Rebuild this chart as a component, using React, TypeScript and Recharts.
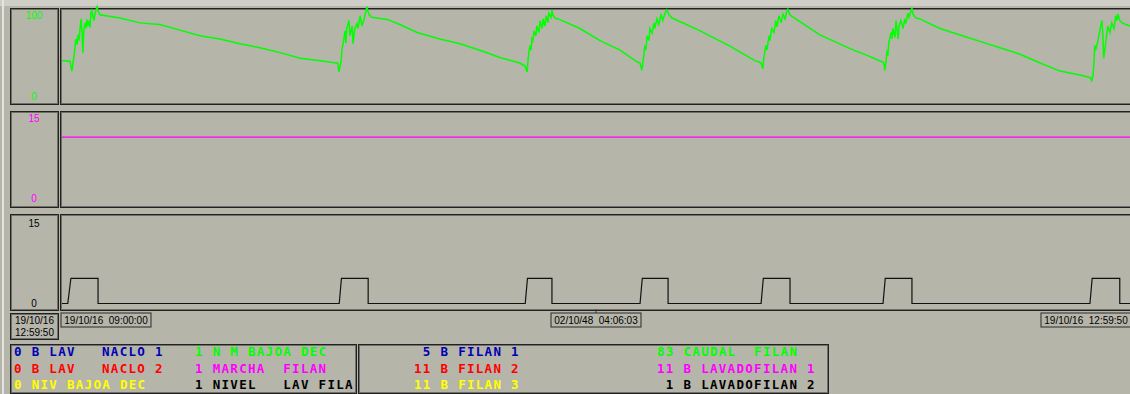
import { Line, LineChart, XAxis, YAxis } from 'recharts'

// top pen: nivel (0..100)
const levelTime = [
  0, 0.9, 1.8, 2.0, 2.2, 2.5, 2.7, 2.9, 3.1, 3.4, 3.6, 3.8, 4.0, 4.3, 4.5, 4.7, 4.9, 5.2, 5.4, 5.6, 5.8, 6.1, 6.3, 6.5, 6.7, 7.0, 7.2, 7.4, 7.6, 7.9, 8.1, 8.5,
  13.0, 17.5, 22.0, 26.5, 31.0, 35.5, 40.0, 44.5, 49.0, 53.5, 58.0, 61.6,
  62.0, 62.2, 62.7, 62.9, 63.1, 63.4, 63.6, 63.8, 64.0, 64.5, 64.7, 65.2, 65.4, 65.8, 66.3, 66.5, 67.0, 67.4, 67.9, 68.3, 68.5, 69.0, 69.7,
  73.3, 75.9, 79.8, 84.9, 89.4, 93.9, 98.4, 102.9, 103.8,
  104.0, 104.5, 104.7, 104.9, 105.2, 105.4, 105.6, 105.8, 106.1, 106.5, 106.7, 107.2, 107.4, 107.9, 108.1, 108.5, 108.8, 109.2, 109.4, 109.9, 110.1, 110.3, 110.8, 111.9,
  116.4, 120.9, 125.4, 129.4,
  129.9, 130.3, 130.6, 131.0, 131.2, 131.5, 131.9, 132.1, 132.6, 133.0, 133.2, 133.7, 134.1, 134.6, 135.0, 135.5, 135.9, 136.4, 137.1,
  143.4, 150.1, 155.7, 156.8,
  157.1, 157.5, 157.7, 158.2, 158.4, 158.9, 159.1, 159.5, 160.0, 160.4, 160.7, 161.1, 161.6, 162.0, 162.5, 162.9, 163.1, 163.6, 164.3,
  170.3, 177.1, 181.6, 184.5,
  184.7, 184.9, 185.2, 185.4, 185.6, 185.8, 186.3, 186.5, 186.7, 187.2, 187.4, 187.9, 188.1, 188.5, 189.0, 189.4, 189.6, 190.1, 190.3, 190.8, 191.0, 191.2, 191.9,
  192.8, 197.3, 201.8, 206.3, 210.8, 215.3, 219.8, 224.3, 228.7, 231.0,
  231.2, 231.4, 231.7, 231.9, 232.1, 232.3, 232.8, 233.2, 233.7, 233.9, 234.1, 234.6, 235.0, 235.5, 235.9, 236.4, 236.8, 237.1, 237.3, 237.7, 238.2, 239.1, 240,
]
const levelValue = [
  44, 44, 43, 37, 31, 42, 50, 59, 71, 64, 76, 69, 81, 96, 79, 54, 81, 91, 84, 95, 87, 94, 85, 103, 106, 98, 94, 102, 106, 111, 106, 101,
  97, 91, 89, 82, 75, 71, 65, 60, 54, 47, 44, 41,
  41, 30, 42, 57, 63, 73, 81, 66, 84, 94, 75, 87, 65, 84, 90, 84, 100, 87, 96, 106, 111, 101, 98,
  95, 89, 79, 71, 65, 57, 48, 41, 38,
  38, 30, 42, 54, 63, 57, 71, 69, 81, 75, 87, 79, 94, 84, 96, 87, 100, 91, 103, 98, 107, 101, 97, 95,
  84, 69, 57, 42,
  41, 32, 44, 63, 57, 75, 69, 84, 78, 91, 84, 96, 89, 101, 94, 103, 107, 101, 97,
  81, 62, 44, 42,
  41, 34, 47, 63, 57, 75, 69, 84, 79, 94, 86, 100, 91, 102, 96, 106, 108, 101, 98,
  76, 59, 49, 42,
  41, 32, 44, 57, 50, 66, 79, 71, 84, 73, 94, 71, 87, 94, 84, 96, 90, 103, 98, 106, 110, 102, 97,
  96, 84, 76, 68, 60, 52, 41, 31, 26, 23,
  22, 18, 26, 42, 63, 57, 69, 81, 94, 75, 47, 69, 87, 79, 91, 84, 100, 94, 102, 94, 91, 89, 87,
]
const levelTicks = [0, 100]

// middle pen: marcha (0..15)
const marchaTime = [0, 240]
const marchaValue = [11.5, 11.5]
const marchaTicks = [0, 15]

// bottom pen: lavado (0..15)
const washTime = [
  0, 1.3, 2.0, 8.1, 8.1, 62.3, 62.8, 68.8, 68.8, 104.1, 104.6, 110.1, 110.1, 129.9, 130.4, 136.2, 136.2,
  157.1, 157.6, 163.6, 163.6, 184.5, 185.0, 191.0, 191.0, 231.0, 231.5, 237.7, 237.7, 240,
]
const washValue = [
  0, 0, 4.7, 4.7, 0, 0, 4.7, 4.7, 0, 0, 4.7, 4.7, 0, 0, 4.7, 4.7, 0,
  0, 4.7, 4.7, 0, 0, 4.7, 4.7, 0, 0, 4.7, 4.7, 0, 0,
]
const washTicks = [0, 15]

const timeTicks = [0, 120, 240]
const timeLabels = ['19/10/16  09:00:00', '02/10/48  04:06:03', '19/10/16  12:59:50']
const cursorLabel = ['19/10/16', '12:59:50']

const legendLeftRows = [
  [['0 B LAV', '#0000b4'], ['NACLO 1', '#0000b4'], ['1 N M BAJOA DEC', '#00ff00']],
  [['0 B LAV', '#ff0000'], ['NACLO 2', '#ff0000'], ['1 MARCHA  FILAN', '#ff00ff']],
  [['0 NIV BAJOA DEC', '#ffff00'], ['', '#000'], ['1 NIVEL   LAV FILA', '#000000']],
]
const legendRightRows = [
  [[' 5 B FILAN 1', '#0000b4'], ['83 CAUDAL  FILAN', '#00ff00']],
  [['11 B FILAN 2', '#ff0000'], ['11 B LAVADOFILAN 1', '#ff00ff']],
  [['11 B FILAN 3', '#ffff00'], [' 1 B LAVADOFILAN 2', '#000000']],
]

const BG = '#b6b5aa'
const SANS = '"Liberation Sans", Arial, sans-serif'
const MONO = '"DejaVu Sans Mono", "Liberation Mono", monospace'

const levelData = levelTime.map((t, i) => ({ t, v: levelValue[i] }))
const marchaData = marchaTime.map((t, i) => ({ t, v: marchaValue[i] }))
const washData = washTime.map((t, i) => ({ t, v: washValue[i] }))

const box = (left: number, top: number, width: number, height: number) => ({
  position: 'absolute' as const,
  left,
  top,
  width,
  height,
  boxSizing: 'border-box' as const,
  border: '1px solid #222',
  boxShadow: 'inset 0 0 0 1px #6f6e68',
})

function scaleTick(color: string) {
  return (props: any) => (
    <text x={34} y={props.y} dy={3.6} textAnchor="middle" fill={color} fontSize={10} fontFamily={SANS}>
      {props.payload.value}
    </text>
  )
}

function TimeTick(props: any) {
  const { x, y, index } = props
  const w = 90
  const h = 14
  const last = timeTicks.length - 1
  const left = index === 0 ? x - 1 : index === last ? x - w + 1 : x - w / 2
  const top = y + 9.5
  return (
    <g>
      {index > 0 && index < last && <line x1={x} x2={x} y1={y + 6} y2={top} stroke="#333" />}
      <rect x={left} y={top} width={w} height={h} fill="none" stroke="#2a2a2a" />
      <text x={left + w / 2} y={top + h / 2} dy={3.6} textAnchor="middle" fill="#000" fontSize={10} fontFamily={SANS} style={{ whiteSpace: 'pre' }}>
        {timeLabels[index]}
      </text>
    </g>
  )
}

function Panel({ top, height, margin, data, color, domain, ticks, width = 1.2, withTime = false }: any) {
  return (
    <div style={{ position: 'absolute', left: 0, top }}>
      <LineChart width={1130} height={height} data={data} margin={margin}>
        <XAxis
          dataKey="t"
          type="number"
          domain={[0, 240]}
          ticks={timeTicks}
          interval={0}
          hide={!withTime}
          height={withTime ? 26.5 : 0}
          axisLine={false}
          tickLine={false}
          tickSize={0}
          tickMargin={0}
          tick={withTime ? <TimeTick /> : false}
        />
        <YAxis
          width={62}
          domain={domain}
          ticks={ticks}
          interval={0}
          axisLine={false}
          tickLine={false}
          tick={scaleTick(color === '#111' ? '#000' : color)}
        />
        <Line dataKey="v" type="linear" stroke={color} strokeWidth={width} dot={false} isAnimationActive={false} />
      </LineChart>
    </div>
  )
}

function LegendRow({ items, cols, row }: { items: string[][]; cols: number[]; row: number }) {
  return (
    <>
      {items.map(([text, color], i) => (
        <span
          key={i}
          style={{
            position: 'absolute',
            left: cols[i],
            top: [0, 16.5, 33][row],
            color,
            whiteSpace: 'pre',
            fontFamily: MONO,
            fontWeight: 700,
            fontSize: 12.5,
            lineHeight: '14px',
            letterSpacing: '1.3px',
          }}
        >
          {text}
        </span>
      ))}
    </>
  )
}

export default function App() {
  return (
    <div style={{ position: 'absolute', left: 0, top: 0, width: 1130, height: 394, overflow: 'hidden', background: BG }}>
      <div style={{ position: 'absolute', left: 0, top: 0, width: 1130, height: 6, background: '#cfcec7' }} />
      <div style={{ position: 'absolute', left: 2, top: 0, width: 2, height: 394, background: '#e4e3de' }} />

      <div style={box(10, 8, 49, 97)} />
      <div style={box(60, 8, 1090, 97)} />
      <div style={box(10, 111, 49, 97)} />
      <div style={box(60, 111, 1090, 97)} />
      <div style={box(10, 214, 49, 97)} />
      <div style={box(60, 214, 1090, 97)} />

      <div style={{ ...box(10, 313, 49, 27), fontFamily: SANS, fontSize: 10, lineHeight: '12px', textAlign: 'center', paddingTop: 1 }}>
        <div>{cursorLabel[0]}</div>
        <div>{cursorLabel[1]}</div>
      </div>

      <Panel top={0} height={110} margin={{ top: 6, right: 0, bottom: 14, left: 0 }} data={levelData} color="#00ff00" domain={[0, 112]} ticks={levelTicks} width={1.5} />
      <Panel top={105} height={110} margin={{ top: 13.5, right: 0, bottom: 16.5, left: 0 }} data={marchaData} color="#ff00ff" domain={[0, 15]} ticks={marchaTicks} />
      <Panel top={210} height={120} margin={{ top: 13, right: 0, bottom: 0, left: 0 }} data={washData} color="#111" domain={[0, 15]} ticks={washTicks} withTime />

      <div style={box(10, 344, 347, 50)}>
        {legendLeftRows.map((items, r) => (
          <LegendRow key={r} items={items} cols={[3, 91, 184]} row={r} />
        ))}
      </div>
      <div style={box(358, 344, 471, 50)}>
        {legendRightRows.map((items, r) => (
          <LegendRow key={r} items={items} cols={[55, 298]} row={r} />
        ))}
      </div>
    </div>
  )
}
